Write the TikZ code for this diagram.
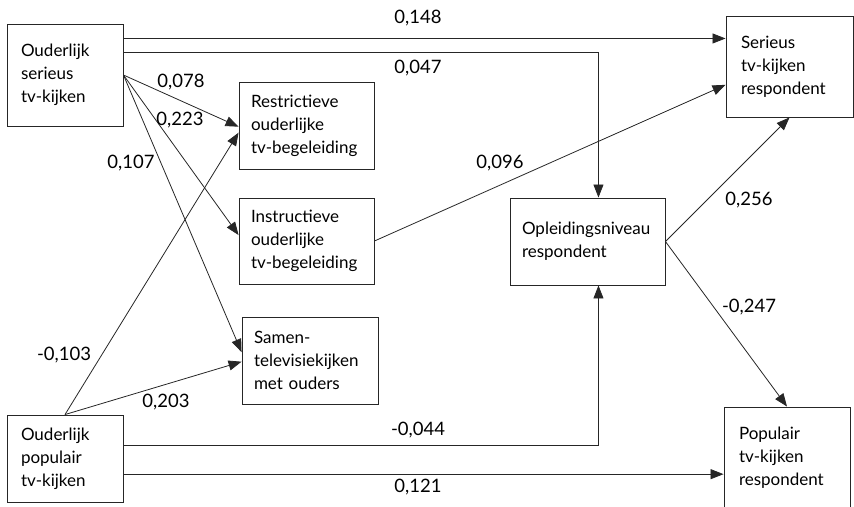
\documentclass[tikz,border=0pt]{standalone}
\usepackage{fontspec}
\setmainfont{Lato}
\usetikzlibrary{arrows.meta}
\begin{document}
\begin{tikzpicture}[x=1pt,y=-1pt,font=\fontsize{17}{23}\selectfont]
		\tikzstyle{var}=[draw=black!85,line width=0.9pt,align=left,inner xsep=12pt,inner ysep=0pt]
		\tikzstyle{link}=[draw=black!85,line width=0.8pt,-{Triangle[length=13pt,width=10pt]}]
		\tikzstyle{coef}=[inner sep=0pt,font=\fontsize{18.5}{23}\selectfont]

		\useasboundingbox (0,0) rectangle (854,506);

		% variables
		\node[var,text width=88pt,inner xsep=14pt,minimum height=102pt] (ouderSer) at (65,75) {Ouderlijk\\serieus\\tv-kijken};
		\node[var,text width=88pt,inner xsep=14pt,minimum height=87pt] (ouderPop) at (65,458.5) {Ouderlijk\\populair\\tv-kijken};
		\node[var,text width=111pt,minimum height=87pt] (restr) at (306.5,125.5) {Restrictieve\\ouderlijke\\tv-begeleiding};
		\node[var,text width=111pt,minimum height=86pt] (instr) at (306.5,241) {Instructieve\\ouderlijke\\tv-begeleiding};
		\node[var,text width=112pt,minimum height=87pt] (samen) at (310,360.5) {Samen-\\televisiekijken\\met ouders};
		\node[var,text width=131pt,minimum height=87pt] (opl) at (587.5,241.5) {Opleidingsniveau\\respondent};
		\node[var,text width=97pt,inner xsep=15pt,minimum height=101pt] (serResp) at (789.5,66.5) {Serieus\\tv-kijken\\respondent};
		\node[var,text width=96pt,inner xsep=15pt,minimum height=101pt] (popResp) at (787,457.5) {Populair\\tv-kijken\\respondent};

		% paths
		\path[link] (ouderSer.32) -- (serResp.west |- ouderSer.32);
		\path[link] (ouderSer.21) -| (opl.76);
		\path[link] (ouderSer.east) -- (restr.181);
		\path[link] (ouderSer.east) -- (instr.175);
		\path[link] (ouderSer.east) -- (samen.173);
		\path[link] (ouderPop.north) -- (restr.186);
		\path[link] (ouderPop.north) -- (samen.181);
		\path[link] (ouderPop.13) -| (opl.284);
		\path[link] (ouderPop.345) -- (popResp.west |- ouderPop.345);
		\path[link] (instr.east) -- (serResp.196);
		\path[link] (opl.east) -- (serResp.south);
		\path[link] (opl.east) -- (popResp.north);

		% coefficients
		\node[coef] (c148) at (418,18) {0,148};
		\node[coef] (c047) at (418,68) {0,047};
		\node[coef] (c078) at (181,82) {0,078};
		\node[coef] (c223) at (180,120) {0,223};
		\node[coef] (c107) at (131,163) {0,107};
		\node[coef] (c103) at (64,355) {-0,103};
		\node[coef] (c203) at (166,402) {0,203};
		\node[coef] (c044) at (418,430) {-0,044};
		\node[coef] (c121) at (418,487) {0,121};
		\node[coef] (c096) at (500,163) {0,096};
		\node[coef] (c256) at (749,200) {0,256};
		\node[coef] (c247) at (749,307) {-0,247};
	\end{tikzpicture}
\end{document}
